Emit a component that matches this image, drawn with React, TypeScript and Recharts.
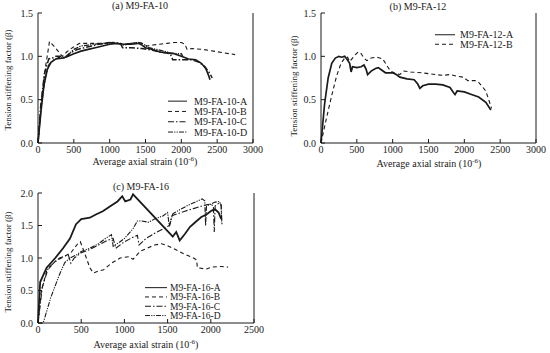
import React from 'react';
import { LineChart, Line, XAxis, YAxis, Legend } from 'recharts';

// ---------- Panel (a) M9-FA-10 ----------
const a10A_strain = [0, 40, 80, 130, 180, 250, 350, 420, 500, 600, 700, 800, 900, 1000, 1100, 1200, 1300, 1400, 1450, 1500, 1600, 1700, 1800, 1900, 2000, 2100, 2200, 2280, 2340, 2380, 2400];
const a10A_beta = [0, 0.35, 0.65, 0.85, 0.93, 0.97, 0.98, 1.0, 1.03, 1.06, 1.08, 1.1, 1.12, 1.14, 1.15, 1.14, 1.14, 1.15, 1.13, 1.1, 1.08, 1.05, 1.04, 1.03, 1.0, 0.97, 0.96, 0.92, 0.86, 0.78, 0.73];
const a10B_strain = [0, 50, 100, 160, 220, 280, 340, 400, 480, 580, 700, 850, 1000, 1100, 1200, 1300, 1400, 1450, 1520, 1600, 1700, 1800, 1900, 2000, 2050, 2080, 2150, 2300, 2450, 2600, 2750];
const a10B_beta = [0, 0.5, 0.85, 1.17, 1.12, 1.06, 1.0, 1.05, 1.1, 1.15, 1.15, 1.15, 1.15, 1.15, 1.14, 1.15, 1.16, 1.15, 1.12, 1.13, 1.14, 1.15, 1.16, 1.16, 1.14, 1.08, 1.09, 1.08, 1.06, 1.04, 1.02];
const a10C_strain = [0, 40, 90, 150, 200, 250, 320, 380, 450, 550, 650, 750, 850, 950, 1050, 1150, 1180, 1300, 1450, 1600, 1700, 1800, 1850, 1880, 1950, 2050, 2150, 2250, 2330, 2400, 2430];
const a10C_beta = [0, 0.45, 0.8, 0.97, 0.98, 1.0, 1.0, 0.98, 1.04, 1.08, 1.1, 1.12, 1.14, 1.15, 1.16, 1.15, 1.1, 1.1, 1.09, 1.07, 1.05, 1.04, 1.02, 0.96, 0.96, 0.96, 0.96, 0.93, 0.88, 0.8, 0.75];
const a10D_strain = [0, 50, 100, 150, 220, 300, 360, 420, 500, 600, 700, 800, 900, 1000, 1100, 1200, 1300, 1400, 1450, 1550, 1650, 1750, 1850, 1950, 2000, 2020];
const a10D_beta = [0, 0.45, 0.75, 0.9, 0.96, 0.99, 0.98, 1.02, 1.08, 1.12, 1.13, 1.14, 1.15, 1.16, 1.15, 1.13, 1.15, 1.16, 1.15, 1.1, 1.08, 1.06, 1.04, 1.03, 1.03, 1.0];

// ---------- Panel (b) M9-FA-12 ----------
const b12A_strain = [0, 50, 100, 150, 200, 250, 290, 330, 360, 400, 420, 440, 500, 560, 600, 630, 650, 700, 760, 800, 850, 900, 1000, 1050, 1100, 1200, 1300, 1350, 1380, 1420, 1500, 1600, 1700, 1800, 1850, 1870, 1900, 2000, 2100, 2200, 2300, 2370];
const b12A_beta = [0, 0.45, 0.75, 0.92, 0.98, 1.0, 0.99, 1.0, 0.97, 0.92, 0.82, 0.88, 0.87, 0.88, 0.9, 0.85, 0.79, 0.83, 0.86, 0.87, 0.84, 0.81, 0.81, 0.79, 0.76, 0.74, 0.73, 0.68, 0.63, 0.66, 0.68, 0.68, 0.67, 0.64, 0.58, 0.56, 0.6, 0.59, 0.56, 0.53, 0.47, 0.38];
const b12B_strain = [0, 80, 150, 220, 280, 330, 370, 400, 440, 480, 520, 560, 600, 640, 700, 780, 860, 900, 930, 970, 1050, 1100, 1150, 1250, 1400, 1500, 1600, 1700, 1800, 1900, 1980, 2050, 2150, 2200, 2250, 2300, 2340, 2380];
const b12B_beta = [0, 0.3, 0.55, 0.78, 0.92, 0.98, 0.99, 0.94, 0.98, 1.02, 1.05, 1.03, 0.98, 0.95, 0.98, 0.99, 0.97, 0.92, 0.88, 0.83, 0.8, 0.79, 0.83, 0.82, 0.81, 0.8, 0.79, 0.78, 0.79, 0.77, 0.76, 0.72, 0.72, 0.7, 0.65, 0.6, 0.5, 0.4];

// ---------- Panel (c) M9-FA-16 ----------
const c16A_strain = [0, 25, 100, 200, 290, 370, 440, 500, 600, 670, 750, 840, 920, 975, 1010, 1070, 1100, 1560, 1600, 1640, 1700, 1760, 1820, 1890, 1950, 2010, 2050, 2090, 2120];
const c16A_beta = [0, 0.63, 0.85, 1.0, 1.15, 1.3, 1.52, 1.6, 1.62, 1.67, 1.72, 1.8, 1.87, 1.95, 1.87, 1.9, 1.98, 1.33, 1.4, 1.27, 1.37, 1.48, 1.55, 1.63, 1.67, 1.73, 1.75, 1.7, 1.6];
const c16B_strain = [0, 40, 100, 200, 300, 380, 420, 460, 490, 510, 560, 600, 640, 700, 760, 850, 950, 1050, 1100, 1180, 1260, 1350, 1430, 1480, 1560, 1680, 1800, 1835, 1845, 1950, 2010, 2120, 2200];
const c16B_beta = [0, 0.5, 0.8, 0.95, 1.02, 1.08, 1.15, 1.22, 1.25, 1.18, 1.0, 0.85, 0.77, 0.8, 0.82, 0.92, 1.0, 1.02, 0.98, 1.1, 1.15, 1.2, 1.22, 1.2, 1.15, 1.07, 1.0, 0.97, 0.85, 0.83, 0.86, 0.87, 0.86];
const c16C_strain = [0, 50, 120, 250, 350, 380, 420, 500, 600, 700, 800, 870, 900, 1000, 1100, 1150, 1170, 1250, 1350, 1450, 1520, 1550, 1700, 1800, 1900, 1950, 2000, 2030, 2040, 2050, 2100, 2120, 2130];
const c16C_beta = [0, 0.55, 0.85, 1.0, 1.05, 0.92, 1.0, 1.08, 1.13, 1.2, 1.27, 1.3, 1.15, 1.25, 1.32, 1.35, 1.2, 1.3, 1.38, 1.45, 1.5, 1.65, 1.72, 1.76, 1.8, 1.82, 1.83, 1.8, 1.4, 1.8, 1.85, 1.82, 1.5];
const c16D_strain = [0, 60, 150, 250, 310, 370, 450, 500, 600, 700, 780, 850, 870, 950, 1000, 1100, 1150, 1200, 1280, 1350, 1450, 1500, 1520, 1560, 1650, 1750, 1850, 1900, 1930, 1940, 1950, 2000, 2050, 2100, 2120, 2125];
const c16D_beta = [0, 0, 0.4, 0.75, 0.93, 1.0, 1.05, 1.1, 1.15, 1.22, 1.3, 1.36, 1.18, 1.25, 1.3, 1.45, 1.57, 1.57, 1.55, 1.6, 1.65, 1.7, 1.48, 1.68, 1.75, 1.82, 1.88, 1.91, 1.88, 1.5, 1.8, 1.83, 1.86, 1.87, 1.8, 1.55];

const ticks3000 = [0, 500, 1000, 1500, 2000, 2500, 3000];
const ticks2500 = [0, 500, 1000, 1500, 2000, 2500];
const ticksBeta15 = [0, 0.5, 1.0, 1.5];
const ticksBeta20 = [0, 0.5, 1.0, 1.5, 2.0];

const zip = (xs: number[], ys: number[]) => xs.map((x, i) => ({ x, y: ys[i] }));

const FONT = '"Liberation Serif", "DejaVu Serif", serif';
const INK = '#1a1a1a';
const DASHES: Record<string, string | undefined> = { A: undefined, B: '4 3', C: '6 2 1.5 2', D: '5 1.2 1.2 1.2 1.2 1.2' };

type Series = { name: string; key: string; data: { x: number; y: number }[]; width: number };

const panelA: Series[] = [
  { name: 'M9-FA-10-A', key: 'A', data: zip(a10A_strain, a10A_beta), width: 1.6 },
  { name: 'M9-FA-10-B', key: 'B', data: zip(a10B_strain, a10B_beta), width: 1.1 },
  { name: 'M9-FA-10-C', key: 'C', data: zip(a10C_strain, a10C_beta), width: 1.5 },
  { name: 'M9-FA-10-D', key: 'D', data: zip(a10D_strain, a10D_beta), width: 1.3 },
];
const panelB: Series[] = [
  { name: 'M9-FA-12-A', key: 'A', data: zip(b12A_strain, b12A_beta), width: 1.7 },
  { name: 'M9-FA-12-B', key: 'B', data: zip(b12B_strain, b12B_beta), width: 1.1 },
];
const panelC: Series[] = [
  { name: 'M9-FA-16-A', key: 'A', data: zip(c16A_strain, c16A_beta), width: 1.8 },
  { name: 'M9-FA-16-B', key: 'B', data: zip(c16B_strain, c16B_beta), width: 1.1 },
  { name: 'M9-FA-16-C', key: 'C', data: zip(c16C_strain, c16C_beta), width: 1.1 },
  { name: 'M9-FA-16-D', key: 'D', data: zip(c16D_strain, c16D_beta), width: 1.1 },
];

const tickStyle = { fontSize: 10, fontFamily: FONT, fill: INK };

function makeLegend(series: Series[], rowH: number, lineLen: number, gap: number, fontSize: number) {
  return () => (
    <svg width={lineLen + gap + 70} height={rowH * series.length} style={{ display: 'block', overflow: 'visible' }}>
      {series.map((s, i) => (
        <g key={s.name}>
          <line x1={0} x2={lineLen} y1={rowH * i + rowH / 2} y2={rowH * i + rowH / 2} stroke={INK} strokeWidth={1} strokeDasharray={DASHES[s.key]} />
          <text x={lineLen + gap} y={rowH * i + rowH / 2} dy="0.35em" fontSize={fontSize} fontFamily={FONT} fill={INK}>{s.name}</text>
        </g>
      ))}
    </svg>
  );
}

type PanelProps = {
  left: number; top: number; width: number; height: number;
  plotLeft: number; plotRight: number; plotTop: number; plotBottom: number;
  xMax: number; xTicks: number[]; yMax: number; yTicks: number[];
  series: Series[]; legend: { left: number; top: number; rowH: number; lineLen: number; gap: number; fontSize: number };
};

function Panel(p: PanelProps) {
  const LegendContent = makeLegend(p.series, p.legend.rowH, p.legend.lineLen, p.legend.gap, p.legend.fontSize);
  return (
    <div style={{ position: 'absolute', left: p.left, top: p.top, width: p.width, height: p.height }}>
      <LineChart width={p.width} height={p.height} margin={{ top: p.plotTop, left: 0, right: 0, bottom: 0 }}>
        <XAxis xAxisId="b" type="number" dataKey="x" domain={[0, p.xMax]} ticks={p.xTicks} orientation="bottom"
          height={p.height - p.plotBottom} tickSize={-4} tickMargin={7} interval={0}
          stroke={INK} tick={tickStyle} allowDuplicatedCategory={false} />
        <XAxis xAxisId="t" type="number" dataKey="x" domain={[0, p.xMax]} ticks={p.xTicks} orientation="top"
          height={0} tickSize={-4} tickFormatter={() => ''} stroke={INK} interval={0} />
        <YAxis yAxisId="l" type="number" domain={[0, p.yMax]} ticks={p.yTicks} orientation="left"
          width={p.plotLeft} tickSize={-4} tickMargin={9} interval={0}
          stroke={INK} tick={tickStyle} tickFormatter={(v: number) => v.toFixed(1)} />
        <YAxis yAxisId="r" type="number" domain={[0, p.yMax]} ticks={p.yTicks} orientation="right"
          width={p.width - p.plotRight} tickSize={-4} tickFormatter={() => ''} stroke={INK} interval={0} />
        {p.series.map((s) => (
          <Line key={s.name} xAxisId="b" yAxisId="l" data={s.data} dataKey="y" name={s.name} type="linear"
            stroke={INK} strokeWidth={s.width} strokeDasharray={DASHES[s.key]} dot={false} activeDot={false}
            isAnimationActive={false} />
        ))}
        <Legend layout="vertical" align="center" verticalAlign="middle" content={LegendContent}
          wrapperStyle={{ position: 'absolute', left: p.legend.left, top: p.legend.top, width: 'auto', height: 'auto' }} />
      </LineChart>
    </div>
  );
}

const YLabel = ({ x, y }: { x: number; y: number }) => (
  <text transform={`translate(${x},${y}) rotate(-90)`} textAnchor="middle" fontSize={9} fontFamily={FONT} fill={INK}>
    Tension stiffening factor (β)
  </text>
);
const XLabel = ({ x, y }: { x: number; y: number }) => (
  <text x={x} y={y} textAnchor="middle" fontSize={10} fontFamily={FONT} fill={INK}>
    Average axial strain (10<tspan dy={-4} fontSize={7}>-6</tspan><tspan dy={4}>)</tspan>
  </text>
);
const Title = ({ x, y, t }: { x: number; y: number; t: string }) => (
  <text x={x} y={y} textAnchor="middle" fontSize={10} fontFamily={FONT} fill={INK}>{t}</text>
);

export default function App() {
  return (
    <div style={{ position: 'absolute', left: 0, top: 0, width: 550, height: 353, background: '#fff', overflow: 'hidden' }}>
      <Panel left={0} top={0} width={275} height={176} plotLeft={38} plotRight={253} plotTop={13} plotBottom={143}
        xMax={3000} xTicks={ticks3000} yMax={1.5} yTicks={ticksBeta15} series={panelA}
        legend={{ left: 168, top: 96, rowH: 10.3, lineLen: 19, gap: 7, fontSize: 10 }} />
      <Panel left={275} top={0} width={275} height={176} plotLeft={46} plotRight={261} plotTop={13} plotBottom={143}
        xMax={3000} xTicks={ticks3000} yMax={1.5} yTicks={ticksBeta15} series={panelB}
        legend={{ left: 160, top: 30, rowH: 9.5, lineLen: 20, gap: 5, fontSize: 10 }} />
      <Panel left={0} top={176} width={275} height={177} plotLeft={38} plotRight={254} plotTop={17} plotBottom={147}
        xMax={2500} xTicks={ticks2500} yMax={2.0} yTicks={ticksBeta20} series={panelC}
        legend={{ left: 145, top: 106.5, rowH: 9.3, lineLen: 22, gap: 3, fontSize: 9.5 }} />
      <svg width={550} height={353} style={{ position: 'absolute', left: 0, top: 0, pointerEvents: 'none' }}>
        <Title x={140} y={9} t="(a) M9-FA-10" />
        <Title x={418} y={9.5} t="(b) M9-FA-12" />
        <Title x={141} y={189.5} t="(c) M9-FA-16" />
        <YLabel x={11} y={80} />
        <YLabel x={297} y={86} />
        <YLabel x={11} y={262} />
        <XLabel x={145} y={165} />
        <XLabel x={429} y={167} />
        <XLabel x={146} y={348} />
      </svg>
    </div>
  );
}
